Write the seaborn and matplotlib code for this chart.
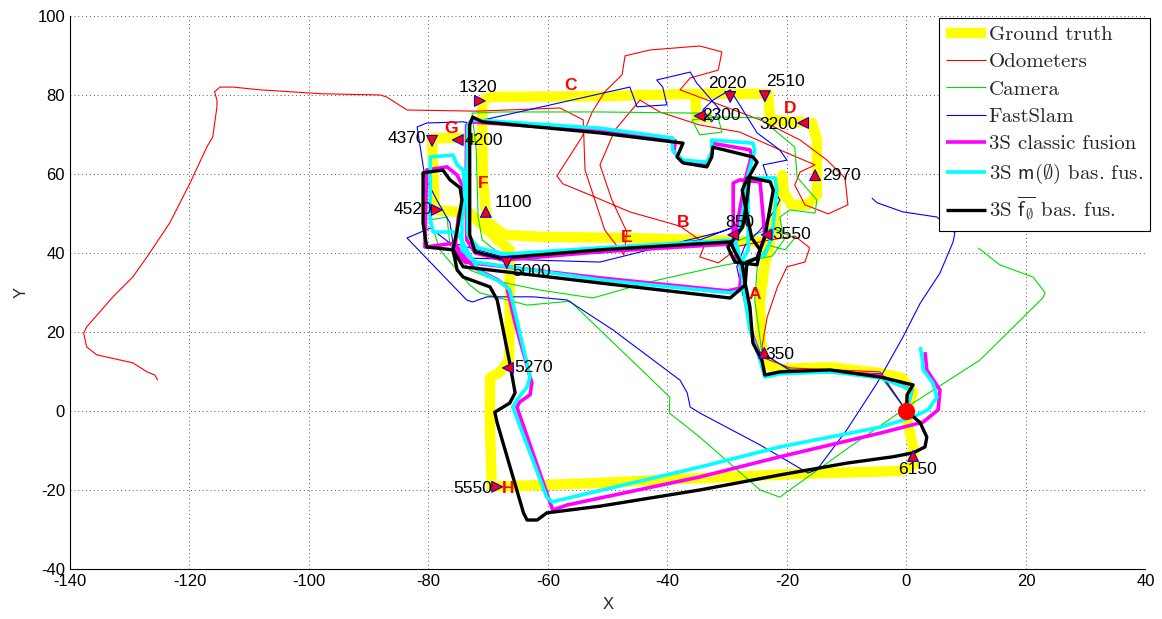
import matplotlib
matplotlib.use("Agg")
import pandas as pd
import matplotlib.pyplot as plt
import seaborn as sns

sns.set_style("white")
plt.rcParams['font.family'] = ['Liberation Sans', 'DejaVu Sans']
plt.rcParams['mathtext.fontset'] = 'cm'
plt.rcParams['axes.unicode_minus'] = False

# ---- trajectories (metres) ----
gt_main_x = [0.0, 1.1, -0.8, -4.4, -12.8, -21.2, -23.7, -24.4, -24.5, -23.7, -22.8, -34.6, -46.9, -61.3,
             -67.2, -70.2, -70.9, -71.0, -71.0, -69.4, -51.3, -34.6, -23.2, -22.8, -15.8, -15.0, -15.0,
             -16.5, -19.2, -20.5, -20.8, -21.8, -22.3]
gt_main_y = [0.0, 4.8, 8.4, 9.6, 11.1, 10.6, 11.9, 18.0, 28.1, 37.0, 42.8, 43.3, 43.8, 44.1,
             44.6, 47.8, 58.5, 71.1, 78.7, 79.5, 79.7, 80.3, 80.3, 73.7, 72.9, 68.6, 54.7,
             52.2, 52.2, 55.2, 59.7, 53.4, 43.3]
gt_loop_x = [-71.0, -74.7, -79.4, -79.2, -78.9, -73.1, -68.5, -66.4, -66.4, -66.5, -68.0, -69.7, -69.7,
             -69.4, -51.3, -34.6, -17.8, -1.1, 1.1, 1.1, 0.1, 0.0]
gt_loop_y = [68.6, 69.1, 69.1, 59.7, 50.9, 50.1, 43.5, 40.8, 28.1, 12.9, 9.9, 8.4, -4.8,
             -19.2, -18.2, -17.0, -15.9, -15.2, -13.7, -9.1, -2.3, 0.0]
gt_spur_x = [-35.4, -35.1, -32.6]
gt_spur_y = [80.3, 74.4, 74.2]

odo_x = [0.0, -4.4, -19.5, -23.8, -24.2, -23.3, -21.6, -20.0, -17.0, -16.2, -18.7, -22.8, -27.9, -29.0,
         -31.5, -34.6, -33.7, -37.9, -46.3, -53.0, -57.5, -58.5, -56.8, -54.3, -52.6, -50.5, -47.6,
         -47.1, -42.9, -34.6, -30.9, -31.5, -36.2, -37.9, -31.2, -24.5, -17.8, -13.3, -10.3, -9.8,
         -13.1, -17.0, -18.7, -17.8, -15.3, -21.2, -27.9, -34.6, -41.3, -44.6, -48.8, -51.3, -49.3,
         -46.8, -47.3, -50.5, -53.8, -54.1, -58.0, -71.9, -83.6, -87.0, -88.1, -97.7, -99.8, -108.2,
         -112.7, -114.9, -115.8, -115.4, -115.4, -116.1, -117.1, -119.9, -123.3, -127.1, -129.5,
         -132.8, -137.2, -137.7, -137.2, -135.5, -129.5, -127.1, -125.8, -125.3]
odo_y = [0.0, 9.9, 10.9, 13.4, 16.2, 23.8, 31.4, 36.5, 37.7, 41.3, 44.3, 43.3, 41.8, 40.3,
         37.5, 39.0, 42.3, 46.8, 50.4, 54.7, 57.5, 59.5, 63.5, 69.4, 75.7, 80.8, 85.1,
         89.9, 91.4, 92.4, 90.9, 86.3, 84.3, 81.3, 77.5, 73.7, 68.6, 63.5, 59.0, 52.2,
         49.9, 52.2, 57.2, 60.5, 62.3, 66.1, 70.6, 72.4, 75.7, 78.7, 71.1, 62.3, 53.4,
         45.3, 39.5, 45.8, 61.0, 73.7, 76.7, 75.9, 76.2, 79.5, 80.0, 80.3, 80.5, 81.3,
         82.0, 82.0, 80.8, 78.7, 77.0, 69.4, 66.8, 57.7, 47.6, 39.0, 33.9,
         28.9, 21.3, 19.7, 16.2, 14.2, 12.2, 9.9, 9.1, 7.8]

cam_x = [0.0, -4.4, -19.5, -24.2, -25.4, -24.9, -23.2, -20.3, -18.7, -22.5, -27.9, -34.6, -51.3, -68.0,
         -71.0, -71.7, -72.0, -72.7, -68.0, -51.3, -34.6, -31.5, -30.9, -34.6, -35.9, -31.5, -24.5,
         -18.7, -18.3, -15.0, -15.3, -19.5, -21.2, -20.5, -22.5, -31.2, -42.9, -52.5, -61.3, -68.0,
         -73.1, -76.4, -76.9, -79.7, -78.1, -73.1, -71.4, -63.5, -56.3, -39.6, -39.7, -34.6, -24.5,
         -21.2, -9.5, 1.1, 12.3, 22.8, 23.2, 21.2, 15.6, 12.0]
cam_y = [0.0, 8.9, 10.1, 14.9, 28.1, 37.7, 42.0, 40.8, 43.8, 46.3, 43.3, 42.8, 41.5, 39.7,
         43.3, 49.1, 66.1, 75.4, 75.7, 75.7, 75.4, 74.2, 70.6, 69.9, 73.7, 74.4, 74.2,
         66.8, 59.2, 53.4, 50.1, 50.9, 49.1, 43.3, 39.2, 36.7, 32.7, 28.6, 30.6, 32.7,
         35.7, 42.0, 49.1, 48.4, 40.8, 31.9, 29.9, 26.8, 27.8, 3.5, -0.5, -6.6, -20.0,
         -21.8, -9.1, 2.0, 12.9, 28.6, 29.9, 33.9, 37.0, 41.3]

slam_x = [0.0, -4.4, -19.5, -24.5, -26.2, -28.4, -27.0, -24.5, -22.0, -21.2, -23.3, -24.0, -20.0, -21.2,
          -25.0, -29.5, -32.4, -34.1, -32.6, -31.2, -35.1, -36.2, -41.8, -40.8, -40.1, -45.1, -46.3,
          -73.1, -74.2, -80.3, -81.9, -80.6, -78.6, -76.4, -75.9, -68.0, -51.3, -34.6, -27.9, -31.2,
          -51.3, -73.1, -79.7, -83.6, -73.6, -72.6, -70.2, -62.5, -56.8, -49.1, -37.9, -36.7, -36.2,
          -34.6, -24.5, -16.5, -15.0, -10.0, -4.9, -0.6, 2.3, 5.6, 7.8, 8.1, 5.1, -0.6, -4.9, -5.8]
slam_y = [0.0, 9.4, 10.4, 14.9, 21.3, 36.5, 42.0, 45.8, 50.9, 53.4, 59.2, 62.3, 63.5, 66.1,
          70.4, 81.3, 78.7, 76.2, 73.2, 76.2, 83.0, 85.8, 83.8, 82.0, 77.5, 77.0, 82.0,
          72.9, 73.2, 72.9, 71.9, 59.2, 53.4, 47.6, 42.5, 39.2, 40.0, 43.3, 47.1, 45.3,
          37.7, 38.7, 46.3, 43.8, 28.1, 27.6, 28.9, 28.9, 28.1, 20.5, 7.8, 4.6, 1.0,
          -0.5, -8.6, -15.7, -14.9, -4.8, 7.1, 18.7, 27.3, 34.9, 42.8, 45.1, 49.1, 50.4, 52.7, 53.9]

classic_x = [0.0, 0.9, -4.4, -12.8, -21.2, -23.7, -24.4, -26.0, -26.9, -27.4, -28.5, -29.2, -51.3, -67.5,
             -72.2, -73.6, -73.7, -73.6, -72.9, -51.3, -38.7, -38.9, -37.4, -33.4, -32.6, -32.6, -26.2,
             -25.9, -27.0, -27.9, -28.7, -28.4, -29.0, -29.0, -27.9, -24.5, -23.7, -25.0, -27.5, -27.9,
             -29.9, -51.3, -73.9, -75.6, -75.0, -74.2, -74.2, -75.2, -76.9, -80.3, -80.6, -75.6, -73.9,
             -71.7, -68.4, -66.9, -65.5, -62.7, -63.0, -64.7, -65.2, -59.2, -56.8, -34.6, -21.2, -4.4,
             2.8, 5.3, 5.6, 3.4, 3.1]
classic_y = [0.0, 5.3, 8.9, 10.1, 9.6, 8.9, 12.9, 20.5, 28.1, 34.4, 40.3, 42.3, 40.3, 38.2,
             40.0, 43.3, 58.5, 72.4, 73.2, 70.9, 68.4, 65.6, 63.0, 62.3, 65.1, 67.8, 66.1,
             64.8, 58.5, 50.9, 44.6, 37.7, 45.1, 57.7, 58.5, 58.0, 44.3, 38.7, 37.0, 31.1,
             30.4, 33.7, 37.7, 40.8, 49.1, 53.4, 56.7, 59.7, 61.8, 61.0, 41.5, 42.5, 38.7,
             35.7, 33.2, 31.4, 22.3, 7.1, 4.1, 2.3, 1.0, -25.1, -23.8, -16.7, -11.6, -5.6,
             -2.8, 0.3, 5.3, 10.4, 14.9]

mfus_x = [0.0, 0.9, -4.4, -12.8, -21.2, -23.7, -24.5, -26.2, -27.0, -27.5, -28.2, -28.7, -51.3, -67.2,
          -71.7, -73.4, -73.6, -73.4, -72.7, -51.3, -39.1, -39.2, -37.4, -33.4, -32.6, -32.6, -25.7,
          -25.4, -26.5, -27.2, -27.9, -28.7, -27.9, -26.5, -26.5, -22.0, -21.7, -22.5, -23.7, -27.0,
          -27.5, -29.5, -51.3, -72.2, -74.4, -74.4, -73.9, -74.2, -75.2, -75.9, -79.7, -79.7, -79.2,
          -75.2, -73.1, -71.4, -68.0, -66.4, -65.2, -63.0, -63.5, -65.2, -65.9, -60.2, -59.3, -34.6,
          -21.2, -4.4, 1.1, 3.6, 5.1, 4.4, 2.8, 2.6, 2.3]
mfus_y = [0.0, 5.3, 8.4, 9.9, 9.4, 8.6, 12.9, 20.5, 28.1, 34.4, 40.8, 43.3, 41.3, 39.7,
          41.3, 44.6, 58.5, 72.4, 73.7, 71.6, 69.1, 66.1, 63.5, 63.0, 65.6, 68.6, 67.8,
          66.1, 59.7, 52.2, 45.8, 43.3, 37.0, 40.8, 59.0, 59.0, 55.9, 44.1, 39.5, 37.7,
          30.6, 29.9, 33.2, 37.7, 40.8, 48.4, 55.9, 61.0, 62.3, 64.8, 64.3, 48.4, 45.3,
          45.3, 39.5, 35.2, 32.7, 30.6, 23.0, 8.6, 6.1, 2.8, 1.0, -21.8, -23.0, -14.2,
          -9.1, -4.1, -1.5, 0.3, 3.5, 7.1, 10.4, 13.7, 16.2]

fbar_x = [0.0, 0.1, 1.1, -4.4, -12.8, -21.2, -23.7, -24.2, -25.7, -26.2, -27.0, -27.5, -28.7, -29.5,
          -51.3, -68.0, -72.2, -73.1, -73.1, -73.1, -72.6, -71.0, -51.3, -37.4, -38.4, -37.4, -33.4,
          -32.6, -32.4, -25.7, -25.0, -26.2, -26.7, -27.4, -29.0, -29.9, -28.7, -25.0, -24.5, -25.9,
          -27.5, -26.5, -22.8, -22.3, -23.7, -25.0, -26.7, -27.0, -29.5, -51.3, -74.2, -75.9, -80.3,
          -80.9, -80.9, -77.6, -76.4, -74.7, -74.4, -75.2, -75.9, -75.2, -74.2, -69.7, -68.5, -66.4,
          -65.5, -66.4, -68.9, -68.5, -64.1, -63.5, -61.8, -60.2, -51.3, -34.6, -21.2, -10.0, -2.3,
          1.1, 3.1, 3.4, 2.3, 0.3]
fbar_y = [0.0, 4.1, 6.6, 8.6, 10.4, 9.9, 9.1, 12.9, 17.2, 26.3, 32.4, 37.0, 40.3, 42.8,
          40.8, 38.7, 40.3, 44.6, 58.5, 72.4, 74.4, 73.2, 70.4, 67.8, 64.3, 62.8, 61.8,
          64.3, 66.8, 64.3, 63.0, 59.7, 53.4, 46.6, 43.3, 41.5, 37.7, 37.0, 40.8, 43.8,
          55.9, 59.2, 58.0, 55.9, 44.1, 38.7, 37.7, 31.9, 28.6, 32.4, 36.5, 40.8, 41.5,
          47.6, 60.3, 61.0, 58.5, 56.5, 53.4, 45.8, 40.8, 35.7, 33.9, 31.4, 28.1, 12.2,
          4.6, 2.0, -0.3, -3.0, -25.8, -27.6, -27.6, -25.8, -24.1, -20.0, -16.2, -13.2, -11.6,
          -10.6, -9.1, -6.6, -3.0, -0.3]

# time stamps along the ground truth
stamp_x = [-71.4, -29.5, -23.7, -34.6, -17.3, -15.3, -79.4, -75.1, -78.6, -70.4, -66.9, -66.7, -68.5,
           -29.0, -23.4, -23.8, 1.1]
stamp_y = [78.5, 79.5, 79.7, 74.7, 72.9, 59.7, 68.4, 68.6, 50.9, 50.4, 37.5, 10.9, -19.2,
           44.6, 44.6, 14.7, -11.4]
stamp_dir = ['>', 'v', 'v', '<', '<', '^', 'v', '<', '>', '^', 'v', '<', '>', '<', '<', '^', '^']
stamp_text = ['1320', '2020', '2510', '2300', '3200', '2970', '4370', '4200', '4520', '1100', '5000',
              '5270', '5550', '850', '3550', '350', '6150']
text_x = [-71.7, -30.0, -20.2, -34.2, -18.2, -14.1, -80.4, -73.9, -79.4, -69.0, -66.0, -65.7, -69.4,
          -27.9, -22.5, -23.7, 1.8]
text_y = [81.8, 82.8, 83.3, 74.7, 72.6, 59.7, 68.9, 68.6, 51.1, 52.9, 35.4, 11.1, -19.5,
          47.6, 44.6, 14.4, -14.9]
text_ha = ['center', 'center', 'center', 'left', 'right', 'left', 'right', 'left', 'right', 'left',
           'left', 'left', 'right', 'center', 'left', 'left', 'center']

letters = ['A', 'B', 'C', 'D', 'E', 'F', 'G', 'H']
letter_x = [-25.4, -37.4, -56.3, -19.5, -46.9, -70.9, -76.2, -66.7]
letter_y = [29.4, 47.6, 82.5, 76.6, 43.8, 57.7, 71.6, -19.7]


def trace(parts):
    frames = []
    for i, (xs, ys) in enumerate(parts):
        frames.append(pd.DataFrame({'x': xs, 'y': ys, 'part': i}))
    return pd.concat(frames, ignore_index=True)


fig = plt.figure(figsize=(11.62, 6.19), dpi=100)
ax = fig.add_axes([0.0602, 0.0808, 0.9256, 0.8934])

series = [
    (trace([(gt_main_x, gt_main_y), (gt_loop_x, gt_loop_y), (gt_spur_x, gt_spur_y)]),
     '#ffff00', 7.5, 'Ground truth', 1),
    (trace([(odo_x, odo_y)]), '#ff0000', 0.8, 'Odometers', 2),
    (trace([(cam_x, cam_y)]), '#00dd00', 0.8, 'Camera', 2),
    (trace([(slam_x, slam_y)]), '#0000ff', 0.8, 'FastSlam', 2),
    (trace([(classic_x, classic_y)]), '#ff00ff', 2.6, '3S classic fusion', 3),
    (trace([(mfus_x, mfus_y)]), '#00ffff', 2.6, r'3S $\mathsf{m}(\emptyset)$ bas. fus.', 4),
    (trace([(fbar_x, fbar_y)]), 'black', 2.4, r'3S $\overline{\mathsf{f}_{\emptyset}}$ bas. fus.', 5),
]
for df, col, lw, lab, z in series:
    sns.lineplot(data=df, x='x', y='y', units='part', estimator=None, sort=False,
                 color=col, lw=lw, label=lab, ax=ax, zorder=z,
                 solid_joinstyle='round', solid_capstyle='butt')

marks = pd.DataFrame({'x': stamp_x, 'y': stamp_y, 'dir': stamp_dir})
sns.scatterplot(data=marks, x='x', y='y', style='dir',
                markers={'>': '>', '<': '<', '^': '^', 'v': 'v'},
                color='red', edgecolor='blue', linewidth=0.8, s=60, legend=False, ax=ax, zorder=7)
sns.scatterplot(x=[0.0], y=[0.0], color='red', s=130, edgecolor='red', legend=False, ax=ax, zorder=7)

for tx, ty, t, ha in zip(text_x, text_y, stamp_text, text_ha):
    ax.text(tx, ty, t, ha=ha, va='center', fontsize=12.5, color='black',
            zorder=4.5 if t == '850' else 8)
for lx, ly, t in zip(letter_x, letter_y, letters):
    ax.text(lx, ly, t, ha='center', va='center', fontsize=12.5, color='red',
            fontweight='bold', zorder=8)

ax.set_xlim(-140, 40)
ax.set_ylim(-40, 100)
ax.set_xticks(range(-140, 41, 20))
ax.set_yticks(range(-40, 101, 20))
ax.tick_params(direction='in', length=4, labelsize=12, colors='black')
ax.grid(True, color='0.35', linestyle=(0, (1, 3)), lw=0.7)
for s in ['top', 'right']:
    ax.spines[s].set_visible(False)
for s in ['left', 'bottom']:
    ax.spines[s].set_color('black')
    ax.spines[s].set_linewidth(0.8)
ax.set_xlabel('X', fontsize=12, labelpad=6)
ax.set_ylabel('Y', fontsize=12, labelpad=6)

# one legend entry per series (ground truth is drawn in several pieces)
handles, labels = ax.get_legend_handles_labels()
uniq = {}
for h, l in zip(handles, labels):
    uniq.setdefault(l, h)
leg = ax.legend(list(uniq.values()), list(uniq.keys()),
                loc='upper right', bbox_to_anchor=(1150 / 1162, 1 - 18 / 619),
                bbox_transform=fig.transFigure, borderaxespad=0, fancybox=False,
                edgecolor='black', framealpha=1, handlelength=1.9, handletextpad=0.15,
                labelspacing=0.42, borderpad=0.35, prop={'family': 'cmr10', 'size': 15})
leg.get_frame().set_linewidth(0.8)
leg.set_zorder(10)

fig.savefig('out.png', dpi=100)
